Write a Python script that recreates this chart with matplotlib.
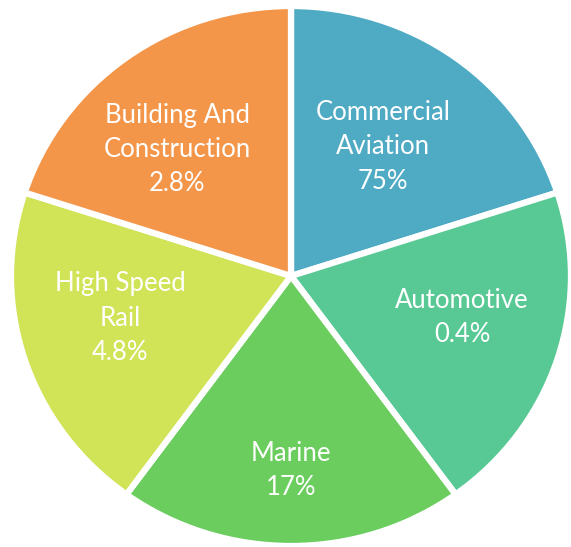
import numpy as np
import matplotlib.pyplot as plt

# market segments, clockwise from the top
segments = ["Commercial\nAviation", "Automotive", "Marine", "High Speed\nRail", "Building And\nConstruction"]
shares = ["75%", "0.4%", "17%", "4.8%", "2.8%"]
# every segment gets the same wedge
wedge_sizes = [1, 1, 1, 1, 1]
colors = ["#4faac4", "#58c995", "#6acd5e", "#d1e356", "#f4964a"]

# label placement: distance from centre and turn away from the wedge bisector (deg)
label_r = [0.58, 0.63, 0.72, 0.63, 0.62]
label_turn = [1.6, 3.8, 0.0, -3.7, 4.9]

plt.rcParams['font.family'] = ['Lato', 'DejaVu Sans']

fig = plt.figure(figsize=(5.71, 5.47), dpi=100)
ax = fig.add_axes([0, 0, 1, 1])

wedges, _ = ax.pie(wedge_sizes, colors=colors, startangle=90, counterclock=False,
                   wedgeprops=dict(edgecolor="white", linewidth=4.5))

# slightly wider than tall
ax.set_aspect('auto')
ax.set_xlim(-291 / 280, 280 / 280)
ax.set_ylim(-271 / 270, 276 / 270)

for w, name, pct, r, turn in zip(wedges, segments, shares, label_r, label_turn):
    mid = np.deg2rad((w.theta1 + w.theta2) / 2 + turn)
    ax.text(r * np.cos(mid), r * np.sin(mid), f"{name}\n{pct}", ha="center", va="center",
            color="white", fontsize=18.5, linespacing=1.47)

fig.savefig("out.png", dpi=100)
